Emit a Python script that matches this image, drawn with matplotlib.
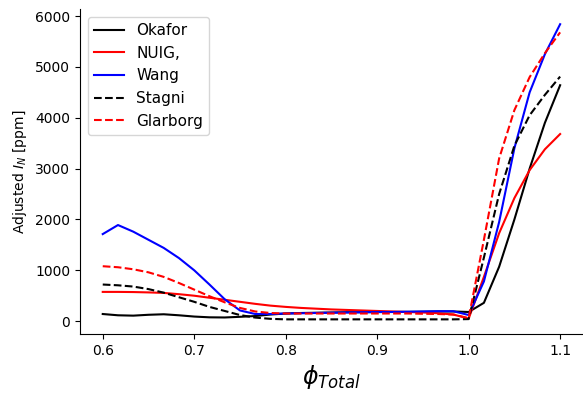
import matplotlib
matplotlib.use('Agg')
import matplotlib.pyplot as plt
import numpy as np

# equivalence ratio grid (0.6 -> 1.1)
phi = np.linspace(0.6, 1.1, 31)

okafor = [140, 115, 108, 125, 135, 115, 90, 75, 72, 85, 100, 130, 150, 160, 165,
          170, 175, 175, 178, 180, 182, 185, 190, 190, 180,
          360, 1070, 2000, 3000, 3900, 4640]
nuig = [575, 575, 572, 565, 555, 530, 500, 460, 420, 380, 340, 305, 280, 260, 245,
        230, 220, 210, 200, 190, 180, 170, 155, 130, 50,
        870, 1730, 2420, 2970, 3380, 3680]
wang = [1712, 1890, 1760, 1600, 1440, 1240, 1000, 720, 430, 210, 140, 140, 150, 155, 160,
        165, 170, 175, 180, 180, 185, 190, 195, 195, 120,
        780, 1950, 3400, 4500, 5250, 5840]
stagni = [720, 705, 680, 630, 560, 470, 380, 280, 200, 120, 70, 45, 35, 35, 35,
          35, 35, 35, 35, 35, 35, 35, 35, 35, 40,
          1250, 2500, 3450, 4050, 4450, 4810]
glarborg = [1080, 1060, 1020, 960, 870, 750, 620, 490, 370, 260, 190, 160, 150, 150, 150,
            150, 150, 150, 150, 150, 150, 145, 140, 130, 60,
            1600, 3200, 4150, 4800, 5270, 5680]

fig, ax = plt.subplots(figsize=(5.83, 3.94), dpi=100)
plt.subplots_adjust(left=0.137, right=1.0, bottom=0.152, top=0.976)

ax.plot(phi, okafor, 'k-', lw=1.5, label='Okafor')
ax.plot(phi, nuig, 'r-', lw=1.5, label='NUIG,')
ax.plot(phi, wang, 'b-', lw=1.5, label='Wang')
ax.plot(phi, stagni, 'k--', lw=1.5, label='Stagni')
ax.plot(phi, glarborg, 'r--', lw=1.5, label='Glarborg')

ax.spines['top'].set_visible(False)
ax.spines['right'].set_visible(False)
ax.set_ylabel('Adjusted $I_N$ [ppm]', fontsize=10)
ax.set_xlabel(r'$\phi_{Total}$', fontsize=17)
ax.legend(loc='upper left', fontsize=11)

fig.savefig('out.png', dpi=100)
